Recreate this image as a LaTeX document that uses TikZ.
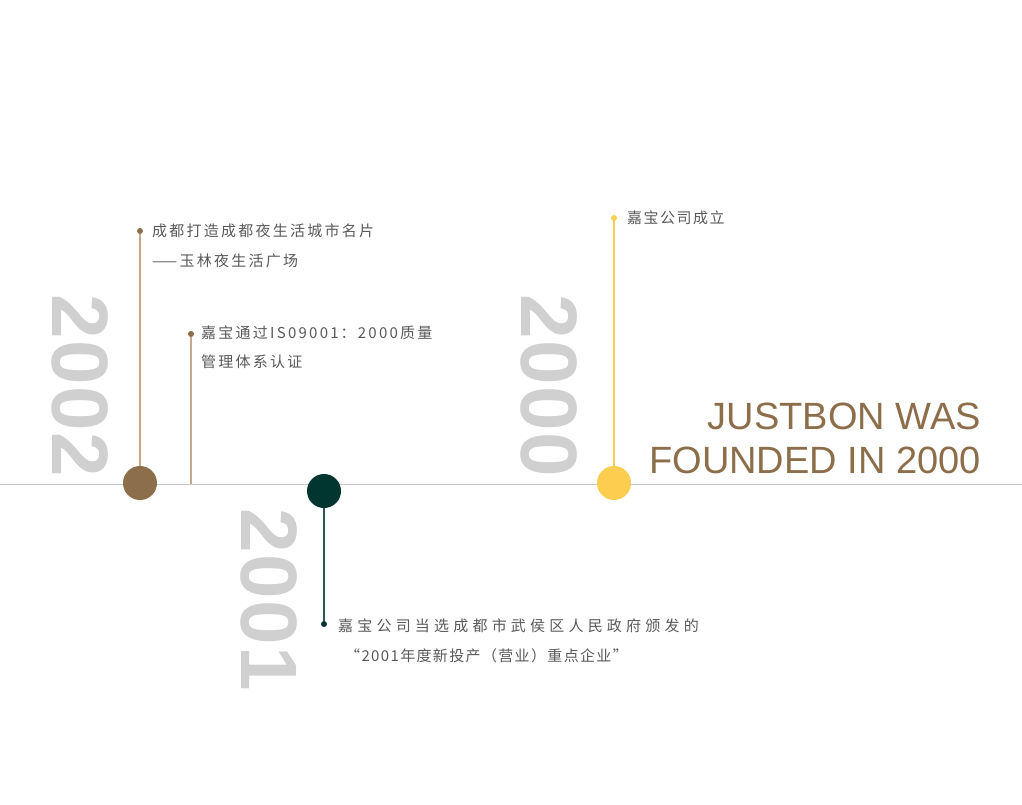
\documentclass[tikz,border=0pt]{standalone}
\usepackage{fontspec}
\newfontfamily\yearfont{Liberation Sans}[LetterSpace=2]
\newfontfamily\titlefont{Liberation Sans}
\newfontfamily\cjkA{Noto Sans CJK SC}[LetterSpace=15]
\newfontfamily\cjkB{Noto Sans CJK SC}[LetterSpace=28]
\newfontfamily\cjkC{Noto Sans CJK SC}[LetterSpace=10]
\newfontfamily\cjkD{Noto Sans CJK SC}[LetterSpace=9]
\definecolor{axisgray}{HTML}{C8C8C8}
\definecolor{brown}{HTML}{8D6E4A}
\definecolor{tan}{HTML}{C4AA8C}
\definecolor{dkgreen}{HTML}{003530}
\definecolor{teal}{HTML}{2E5753}
\definecolor{gold}{HTML}{FDCD50}
\definecolor{yeargray}{HTML}{D0D0D0}
\definecolor{txtgray}{HTML}{5A5A5A}
\begin{document}
\begin{tikzpicture}[x=1pt,y=-1pt,
  bigdot/.style={circle,inner sep=0pt,minimum size=34pt},
  smalldot/.style={circle,inner sep=0pt,minimum size=6pt},
  year/.style={rotate=-90,inner sep=0pt,text=yeargray,font=\yearfont\bfseries\fontsize{80}{80}\selectfont},
  label/.style={anchor=west,inner sep=0pt,text=txtgray},
  title/.style={anchor=east,inner sep=0pt,text=brown,font=\titlefont\fontsize{38}{38}\selectfont}]
\useasboundingbox[fill=white] (0,0) rectangle (1022,804);
% axis
\coordinate (axL) at (0,484);
\coordinate (axR) at (1022,484);
\draw[axisgray,line width=1pt] (axL) -- (axR);
% year labels
\node[year] (y2002) at (80,386) {2002};
\node[year] (y2000) at (549,386) {2000};
\node[year] (y2001) at (269,600) {2001};
% 2002
\node[bigdot,fill=brown] (c2002) at (140,483) {};
\node[smalldot,fill=brown] (d2002a) at (140,231) {};
\node[smalldot,fill=brown] (d2002b) at (191,334) {};
\coordinate (e2002b) at (191,484);
\draw[tan,line width=1.2pt] (d2002a) -- (c2002);
\draw[tan,line width=1.2pt] (d2002b) -- (e2002b);
\node[label,font=\cjkA\fontsize{15}{15}\selectfont] (t2002a) at (152,231) {成都打造成都夜生活城市名片};
\node[label,font=\cjkA\fontsize{15}{15}\selectfont] (t2002a2) at (152,261) {——玉林夜生活广场};
\node[label,font=\cjkA\fontsize{15}{15}\selectfont] (t2002b) at (201,333) {嘉宝通过IS09001\kern2pt：2000质量};
\node[label,font=\cjkA\fontsize{15}{15}\selectfont] (t2002b2) at (201,362) {管理体系认证};
% 2001
\node[bigdot,fill=dkgreen] (c2001) at (324,491) {};
\node[smalldot,fill=dkgreen] (d2001) at (324,624) {};
\draw[teal,line width=1.2pt] (c2001) -- (d2001);
\node[label,font=\cjkB\fontsize{15}{15}\selectfont] (t2001) at (338,626) {嘉宝公司当选成都市武侯区人民政府颁发的};
\node[label,font=\cjkD\fontsize{15}{15}\selectfont] (t20012) at (345,656) {“2001年度新投产（营业）重点企业”};
% 2000
\node[bigdot,fill=gold] (c2000) at (614,483) {};
\node[smalldot,fill=gold] (d2000) at (614,218) {};
\draw[gold,line width=1.2pt] (d2000) -- (c2000);
\node[label,font=\cjkC\fontsize{15}{15}\selectfont] (t2000) at (627,218) {嘉宝公司成立};
% title
\node[title] (tt1) at (981,416) {JUSTBON WAS};
\node[title] (tt2) at (981,460) {FOUNDED IN 2000};
\end{tikzpicture}
\end{document}
